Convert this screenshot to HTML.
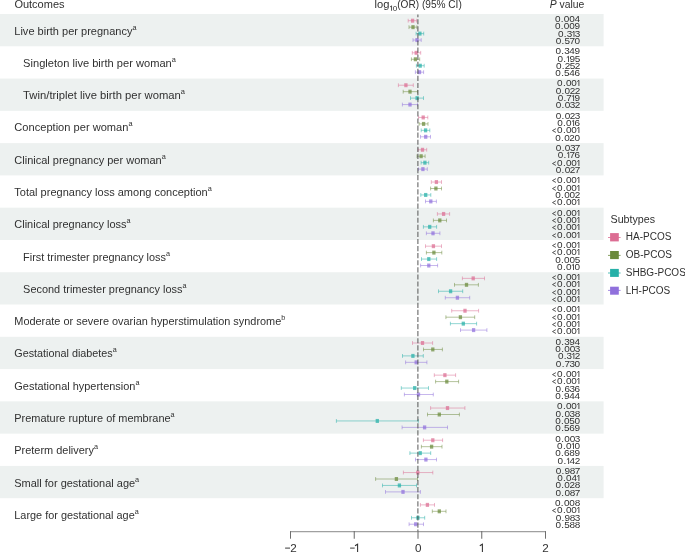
<!DOCTYPE html><html><head><meta charset="utf-8"><style>html,body{margin:0;padding:0;background:#fff;}body{width:685px;height:552px;overflow:hidden;}svg{display:block;will-change:transform;}text{font-family:"Liberation Sans",sans-serif;}</style></head><body>
<svg width="685" height="552" viewBox="0 0 685 552">
<rect x="0" y="14" width="603.6" height="32.28" fill="#edf1f0"/>
<rect x="0" y="78.56" width="603.6" height="32.28" fill="#edf1f0"/>
<rect x="0" y="143.12" width="603.6" height="32.28" fill="#edf1f0"/>
<rect x="0" y="207.68" width="603.6" height="32.28" fill="#edf1f0"/>
<rect x="0" y="272.24" width="603.6" height="32.28" fill="#edf1f0"/>
<rect x="0" y="336.8" width="603.6" height="32.28" fill="#edf1f0"/>
<rect x="0" y="401.36" width="603.6" height="32.28" fill="#edf1f0"/>
<rect x="0" y="465.92" width="603.6" height="32.28" fill="#edf1f0"/>
<text x="14.4" y="7.8" font-size="11.0" fill="#303030">Outcomes</text>
<text x="374.5" y="7.6" font-size="11" fill="#303030" textLength="14.9" lengthAdjust="spacingAndGlyphs">log</text>
<path d="M391.55 10.75V5.85L390.1 6.9" stroke="#303030" stroke-width="0.85" fill="none"/>
<text transform="translate(395.0,10.75) scale(1.08,1)" font-size="7.5" fill="#303030" text-anchor="middle">0</text>
<text x="397.2" y="7.6" font-size="11" fill="#303030" textLength="64.6" lengthAdjust="spacingAndGlyphs">(OR) (95% CI)</text>
<text transform="translate(584.4,7.7) scale(0.944,1)" font-size="11.0" fill="#303030" text-anchor="end"><tspan font-style="italic">P</tspan> value</text>
<text transform="translate(14.3,35) scale(1.0025,1)" font-size="11.0" fill="#303030">Live birth per pregnancy<tspan font-size="7.3" dy="-5.3">a</tspan></text>
<text transform="translate(580.0,21.90) scale(1.2,1)" x="-18.58 -14.88 -11.17 -6.67 -2.21" y="0" font-size="8.3" fill="#303030" text-anchor="middle">0.004</text>
<text transform="translate(580.0,29.23) scale(1.2,1)" x="-18.58 -14.88 -11.17 -6.67 -2.21" y="0" font-size="8.3" fill="#303030" text-anchor="middle">0.009</text>
<text transform="translate(580.0,36.56) scale(1.2,1)" x="-16.00 -12.29 -8.79 -2.04" y="0" font-size="8.3" fill="#303030" text-anchor="middle">0.33</text><path d="M574.00 37V31.20L572.30 32.60" stroke="#303030" stroke-width="0.85" fill="none"/>
<text transform="translate(580.0,43.89) scale(1.2,1)" x="-18.00 -14.29 -10.71 -6.54 -2.25" y="0" font-size="8.3" fill="#303030" text-anchor="middle">0.570</text>
<text transform="translate(23.1,67) scale(1.0093,1)" font-size="11.0" fill="#303030">Singleton live birth per woman<tspan font-size="7.3" dy="-5.3">a</tspan></text>
<text transform="translate(580.0,54.18) scale(1.2,1)" x="-18.08 -14.38 -10.87 -6.63 -2.21" y="0" font-size="8.3" fill="#303030" text-anchor="middle">0.349</text>
<text transform="translate(580.0,61.51) scale(1.2,1)" x="-16.50 -12.79 -6.46 -2.13" y="0" font-size="8.3" fill="#303030" text-anchor="middle">0.95</text><path d="M568.50 62V56.20L566.80 57.60" stroke="#303030" stroke-width="0.85" fill="none"/>
<text transform="translate(580.0,68.84) scale(1.2,1)" x="-17.75 -14.04 -10.50 -6.29 -2.08" y="0" font-size="8.3" fill="#303030" text-anchor="middle">0.252</text>
<text transform="translate(580.0,76.17) scale(1.2,1)" x="-18.25 -14.54 -10.96 -6.63 -2.21" y="0" font-size="8.3" fill="#303030" text-anchor="middle">0.546</text>
<text transform="translate(23.1,99) scale(1.0248,1)" font-size="11.0" fill="#303030">Twin/triplet live birth per woman<tspan font-size="7.3" dy="-5.3">a</tspan></text>
<text transform="translate(580.0,86.46) scale(1.2,1)" x="-16.83 -13.12 -9.42 -4.92" y="0" font-size="8.3" fill="#303030" text-anchor="middle">0.00</text><path d="M578.90 86V80.20L577.20 81.60" stroke="#303030" stroke-width="0.85" fill="none"/>
<text transform="translate(580.0,93.79) scale(1.2,1)" x="-18.00 -14.29 -10.58 -6.25 -2.08" y="0" font-size="8.3" fill="#303030" text-anchor="middle">0.022</text>
<text transform="translate(580.0,101.12) scale(1.2,1)" x="-16.33 -12.62 -9.12 -2.21" y="0" font-size="8.3" fill="#303030" text-anchor="middle">0.79</text><path d="M573.60 101V95.20L571.90 96.60" stroke="#303030" stroke-width="0.85" fill="none"/>
<text transform="translate(580.0,108.45) scale(1.2,1)" x="-17.92 -14.21 -10.50 -6.21 -2.08" y="0" font-size="8.3" fill="#303030" text-anchor="middle">0.032</text>
<text transform="translate(14.3,131) scale(1.0095,1)" font-size="11.0" fill="#303030">Conception per woman<tspan font-size="7.3" dy="-5.3">a</tspan></text>
<text transform="translate(580.0,118.74) scale(1.2,1)" x="-17.92 -14.21 -10.50 -6.17 -2.04" y="0" font-size="8.3" fill="#303030" text-anchor="middle">0.023</text>
<text transform="translate(580.0,126.07) scale(1.2,1)" x="-16.75 -13.04 -9.33 -2.21" y="0" font-size="8.3" fill="#303030" text-anchor="middle">0.06</text><path d="M573.60 126V120.20L571.90 121.60" stroke="#303030" stroke-width="0.85" fill="none"/>
<text transform="translate(580.0,133.40) scale(1.2,1)" x="-16.83 -13.12 -9.42 -4.92" y="0" font-size="8.3" fill="#303030" text-anchor="middle">0.00</text><path d="M555.90 128.65L552.50 130.55L555.90 132.45" stroke="#303030" stroke-width="0.8" fill="none"/><path d="M578.90 133V127.20L577.20 128.60" stroke="#303030" stroke-width="0.85" fill="none"/>
<text transform="translate(580.0,140.73) scale(1.2,1)" x="-18.33 -14.63 -10.92 -6.58 -2.25" y="0" font-size="8.3" fill="#303030" text-anchor="middle">0.020</text>
<text transform="translate(14.3,164) scale(1.0000,1)" font-size="11.0" fill="#303030">Clinical pregnancy per woman<tspan font-size="7.3" dy="-5.3">a</tspan></text>
<text transform="translate(580.0,151.02) scale(1.2,1)" x="-17.83 -14.13 -10.42 -6.13 -2.04" y="0" font-size="8.3" fill="#303030" text-anchor="middle">0.037</text>
<text transform="translate(580.0,158.35) scale(1.2,1)" x="-16.33 -12.62 -6.46 -2.21" y="0" font-size="8.3" fill="#303030" text-anchor="middle">0.76</text><path d="M568.70 158V152.20L567.00 153.60" stroke="#303030" stroke-width="0.85" fill="none"/>
<text transform="translate(580.0,165.68) scale(1.2,1)" x="-16.83 -13.12 -9.42 -4.92" y="0" font-size="8.3" fill="#303030" text-anchor="middle">0.00</text><path d="M555.90 161.65L552.50 163.55L555.90 165.45" stroke="#303030" stroke-width="0.8" fill="none"/><path d="M578.90 166V160.20L577.20 161.60" stroke="#303030" stroke-width="0.85" fill="none"/>
<text transform="translate(580.0,173.01) scale(1.2,1)" x="-17.92 -14.21 -10.50 -6.17 -2.04" y="0" font-size="8.3" fill="#303030" text-anchor="middle">0.027</text>
<text transform="translate(14.3,196) scale(1.0020,1)" font-size="11.0" fill="#303030">Total pregnancy loss among conception<tspan font-size="7.3" dy="-5.3">a</tspan></text>
<text transform="translate(580.0,183.30) scale(1.2,1)" x="-16.83 -13.12 -9.42 -4.92" y="0" font-size="8.3" fill="#303030" text-anchor="middle">0.00</text><path d="M555.90 178.65L552.50 180.55L555.90 182.45" stroke="#303030" stroke-width="0.8" fill="none"/><path d="M578.90 183V177.20L577.20 178.60" stroke="#303030" stroke-width="0.85" fill="none"/>
<text transform="translate(580.0,190.63) scale(1.2,1)" x="-16.83 -13.12 -9.42 -4.92" y="0" font-size="8.3" fill="#303030" text-anchor="middle">0.00</text><path d="M555.90 186.65L552.50 188.55L555.90 190.45" stroke="#303030" stroke-width="0.8" fill="none"/><path d="M578.90 191V185.20L577.20 186.60" stroke="#303030" stroke-width="0.85" fill="none"/>
<text transform="translate(580.0,197.96) scale(1.2,1)" x="-18.33 -14.63 -10.92 -6.42 -2.08" y="0" font-size="8.3" fill="#303030" text-anchor="middle">0.002</text>
<text transform="translate(580.0,205.29) scale(1.2,1)" x="-16.83 -13.12 -9.42 -4.92" y="0" font-size="8.3" fill="#303030" text-anchor="middle">0.00</text><path d="M555.90 200.65L552.50 202.55L555.90 204.45" stroke="#303030" stroke-width="0.8" fill="none"/><path d="M578.90 205V199.20L577.20 200.60" stroke="#303030" stroke-width="0.85" fill="none"/>
<text transform="translate(14.3,228) scale(0.9983,1)" font-size="11.0" fill="#303030">Clinical pregnancy loss<tspan font-size="7.3" dy="-5.3">a</tspan></text>
<text transform="translate(580.0,215.58) scale(1.2,1)" x="-16.83 -13.12 -9.42 -4.92" y="0" font-size="8.3" fill="#303030" text-anchor="middle">0.00</text><path d="M555.90 211.65L552.50 213.55L555.90 215.45" stroke="#303030" stroke-width="0.8" fill="none"/><path d="M578.90 216V210.20L577.20 211.60" stroke="#303030" stroke-width="0.85" fill="none"/>
<text transform="translate(580.0,222.91) scale(1.2,1)" x="-16.83 -13.12 -9.42 -4.92" y="0" font-size="8.3" fill="#303030" text-anchor="middle">0.00</text><path d="M555.90 218.65L552.50 220.55L555.90 222.45" stroke="#303030" stroke-width="0.8" fill="none"/><path d="M578.90 223V217.20L577.20 218.60" stroke="#303030" stroke-width="0.85" fill="none"/>
<text transform="translate(580.0,230.24) scale(1.2,1)" x="-16.83 -13.12 -9.42 -4.92" y="0" font-size="8.3" fill="#303030" text-anchor="middle">0.00</text><path d="M555.90 225.65L552.50 227.55L555.90 229.45" stroke="#303030" stroke-width="0.8" fill="none"/><path d="M578.90 230V224.20L577.20 225.60" stroke="#303030" stroke-width="0.85" fill="none"/>
<text transform="translate(580.0,237.57) scale(1.2,1)" x="-16.83 -13.12 -9.42 -4.92" y="0" font-size="8.3" fill="#303030" text-anchor="middle">0.00</text><path d="M555.90 233.65L552.50 235.55L555.90 237.45" stroke="#303030" stroke-width="0.8" fill="none"/><path d="M578.90 238V232.20L577.20 233.60" stroke="#303030" stroke-width="0.85" fill="none"/>
<text transform="translate(23.1,261) scale(0.9925,1)" font-size="11.0" fill="#303030">First trimester pregnancy loss<tspan font-size="7.3" dy="-5.3">a</tspan></text>
<text transform="translate(580.0,247.86) scale(1.2,1)" x="-16.83 -13.12 -9.42 -4.92" y="0" font-size="8.3" fill="#303030" text-anchor="middle">0.00</text><path d="M555.90 243.65L552.50 245.55L555.90 247.45" stroke="#303030" stroke-width="0.8" fill="none"/><path d="M578.90 248V242.20L577.20 243.60" stroke="#303030" stroke-width="0.85" fill="none"/>
<text transform="translate(580.0,255.19) scale(1.2,1)" x="-16.83 -13.12 -9.42 -4.92" y="0" font-size="8.3" fill="#303030" text-anchor="middle">0.00</text><path d="M555.90 250.65L552.50 252.55L555.90 254.45" stroke="#303030" stroke-width="0.8" fill="none"/><path d="M578.90 255V249.20L577.20 250.60" stroke="#303030" stroke-width="0.85" fill="none"/>
<text transform="translate(580.0,262.52) scale(1.2,1)" x="-18.42 -14.71 -11.00 -6.50 -2.13" y="0" font-size="8.3" fill="#303030" text-anchor="middle">0.005</text>
<text transform="translate(580.0,269.85) scale(1.2,1)" x="-16.83 -13.12 -9.42 -2.25" y="0" font-size="8.3" fill="#303030" text-anchor="middle">0.00</text><path d="M573.50 270V264.20L571.80 265.60" stroke="#303030" stroke-width="0.85" fill="none"/>
<text transform="translate(23.1,293) scale(0.9951,1)" font-size="11.0" fill="#303030">Second trimester pregnancy loss<tspan font-size="7.3" dy="-5.3">a</tspan></text>
<text transform="translate(580.0,280.14) scale(1.2,1)" x="-16.83 -13.12 -9.42 -4.92" y="0" font-size="8.3" fill="#303030" text-anchor="middle">0.00</text><path d="M555.90 275.65L552.50 277.55L555.90 279.45" stroke="#303030" stroke-width="0.8" fill="none"/><path d="M578.90 280V274.20L577.20 275.60" stroke="#303030" stroke-width="0.85" fill="none"/>
<text transform="translate(580.0,287.47) scale(1.2,1)" x="-16.83 -13.12 -9.42 -4.92" y="0" font-size="8.3" fill="#303030" text-anchor="middle">0.00</text><path d="M555.90 282.65L552.50 284.55L555.90 286.45" stroke="#303030" stroke-width="0.8" fill="none"/><path d="M578.90 287V281.20L577.20 282.60" stroke="#303030" stroke-width="0.85" fill="none"/>
<text transform="translate(580.0,294.80) scale(1.2,1)" x="-16.83 -13.12 -9.42 -4.92" y="0" font-size="8.3" fill="#303030" text-anchor="middle">0.00</text><path d="M555.90 290.65L552.50 292.55L555.90 294.45" stroke="#303030" stroke-width="0.8" fill="none"/><path d="M578.90 295V289.20L577.20 290.60" stroke="#303030" stroke-width="0.85" fill="none"/>
<text transform="translate(580.0,302.13) scale(1.2,1)" x="-16.83 -13.12 -9.42 -4.92" y="0" font-size="8.3" fill="#303030" text-anchor="middle">0.00</text><path d="M555.90 297.65L552.50 299.55L555.90 301.45" stroke="#303030" stroke-width="0.8" fill="none"/><path d="M578.90 302V296.20L577.20 297.60" stroke="#303030" stroke-width="0.85" fill="none"/>
<text transform="translate(14.3,325) scale(0.9934,1)" font-size="11.0" fill="#303030">Moderate or severe ovarian hyperstimulation syndrome<tspan font-size="7.3" dy="-5.3">b</tspan></text>
<text transform="translate(580.0,312.42) scale(1.2,1)" x="-16.83 -13.12 -9.42 -4.92" y="0" font-size="8.3" fill="#303030" text-anchor="middle">0.00</text><path d="M555.90 307.65L552.50 309.55L555.90 311.45" stroke="#303030" stroke-width="0.8" fill="none"/><path d="M578.90 312V306.20L577.20 307.60" stroke="#303030" stroke-width="0.85" fill="none"/>
<text transform="translate(580.0,319.75) scale(1.2,1)" x="-16.83 -13.12 -9.42 -4.92" y="0" font-size="8.3" fill="#303030" text-anchor="middle">0.00</text><path d="M555.90 315.65L552.50 317.55L555.90 319.45" stroke="#303030" stroke-width="0.8" fill="none"/><path d="M578.90 320V314.20L577.20 315.60" stroke="#303030" stroke-width="0.85" fill="none"/>
<text transform="translate(580.0,327.08) scale(1.2,1)" x="-16.83 -13.12 -9.42 -4.92" y="0" font-size="8.3" fill="#303030" text-anchor="middle">0.00</text><path d="M555.90 322.65L552.50 324.55L555.90 326.45" stroke="#303030" stroke-width="0.8" fill="none"/><path d="M578.90 327V321.20L577.20 322.60" stroke="#303030" stroke-width="0.85" fill="none"/>
<text transform="translate(580.0,334.41) scale(1.2,1)" x="-16.83 -13.12 -9.42 -4.92" y="0" font-size="8.3" fill="#303030" text-anchor="middle">0.00</text><path d="M555.90 329.65L552.50 331.55L555.90 333.45" stroke="#303030" stroke-width="0.8" fill="none"/><path d="M578.90 334V328.20L577.20 329.60" stroke="#303030" stroke-width="0.85" fill="none"/>
<text transform="translate(14.3,357) scale(0.9827,1)" font-size="11.0" fill="#303030">Gestational diabetes<tspan font-size="7.3" dy="-5.3">a</tspan></text>
<text transform="translate(580.0,344.70) scale(1.2,1)" x="-18.08 -14.38 -10.87 -6.63 -2.21" y="0" font-size="8.3" fill="#303030" text-anchor="middle">0.394</text>
<text transform="translate(580.0,352.03) scale(1.2,1)" x="-18.25 -14.54 -10.83 -6.33 -2.04" y="0" font-size="8.3" fill="#303030" text-anchor="middle">0.003</text>
<text transform="translate(580.0,359.36) scale(1.2,1)" x="-16.08 -12.38 -8.87 -2.08" y="0" font-size="8.3" fill="#303030" text-anchor="middle">0.32</text><path d="M573.90 359V353.20L572.20 354.60" stroke="#303030" stroke-width="0.85" fill="none"/>
<text transform="translate(580.0,366.69) scale(1.2,1)" x="-17.83 -14.13 -10.62 -6.54 -2.25" y="0" font-size="8.3" fill="#303030" text-anchor="middle">0.730</text>
<text transform="translate(14.3,390) scale(0.9960,1)" font-size="11.0" fill="#303030">Gestational hypertension<tspan font-size="7.3" dy="-5.3">a</tspan></text>
<text transform="translate(580.0,376.98) scale(1.2,1)" x="-16.83 -13.12 -9.42 -4.92" y="0" font-size="8.3" fill="#303030" text-anchor="middle">0.00</text><path d="M555.90 372.65L552.50 374.55L555.90 376.45" stroke="#303030" stroke-width="0.8" fill="none"/><path d="M578.90 377V371.20L577.20 372.60" stroke="#303030" stroke-width="0.85" fill="none"/>
<text transform="translate(580.0,384.31) scale(1.2,1)" x="-16.83 -13.12 -9.42 -4.92" y="0" font-size="8.3" fill="#303030" text-anchor="middle">0.00</text><path d="M555.90 379.65L552.50 381.55L555.90 383.45" stroke="#303030" stroke-width="0.8" fill="none"/><path d="M578.90 384V378.20L577.20 379.60" stroke="#303030" stroke-width="0.85" fill="none"/>
<text transform="translate(580.0,391.64) scale(1.2,1)" x="-18.08 -14.38 -10.71 -6.46 -2.21" y="0" font-size="8.3" fill="#303030" text-anchor="middle">0.636</text>
<text transform="translate(580.0,398.97) scale(1.2,1)" x="-18.42 -14.71 -11.04 -6.63 -2.21" y="0" font-size="8.3" fill="#303030" text-anchor="middle">0.944</text>
<text transform="translate(14.3,422) scale(0.9950,1)" font-size="11.0" fill="#303030">Premature rupture of membrane<tspan font-size="7.3" dy="-5.3">a</tspan></text>
<text transform="translate(580.0,409.26) scale(1.2,1)" x="-16.83 -13.12 -9.42 -4.92" y="0" font-size="8.3" fill="#303030" text-anchor="middle">0.00</text><path d="M578.90 409V403.20L577.20 404.60" stroke="#303030" stroke-width="0.85" fill="none"/>
<text transform="translate(580.0,416.59) scale(1.2,1)" x="-18.08 -14.38 -10.67 -6.37 -2.17" y="0" font-size="8.3" fill="#303030" text-anchor="middle">0.038</text>
<text transform="translate(580.0,423.92) scale(1.2,1)" x="-18.42 -14.71 -11.00 -6.63 -2.25" y="0" font-size="8.3" fill="#303030" text-anchor="middle">0.050</text>
<text transform="translate(580.0,431.25) scale(1.2,1)" x="-18.25 -14.54 -10.96 -6.63 -2.21" y="0" font-size="8.3" fill="#303030" text-anchor="middle">0.569</text>
<text transform="translate(14.3,454) scale(0.9951,1)" font-size="11.0" fill="#303030">Preterm delivery<tspan font-size="7.3" dy="-5.3">a</tspan></text>
<text transform="translate(580.0,441.54) scale(1.2,1)" x="-18.25 -14.54 -10.83 -6.33 -2.04" y="0" font-size="8.3" fill="#303030" text-anchor="middle">0.003</text>
<text transform="translate(580.0,448.87) scale(1.2,1)" x="-16.83 -13.12 -9.42 -2.25" y="0" font-size="8.3" fill="#303030" text-anchor="middle">0.00</text><path d="M573.50 449V443.20L571.80 444.60" stroke="#303030" stroke-width="0.85" fill="none"/>
<text transform="translate(580.0,456.20) scale(1.2,1)" x="-18.33 -14.63 -10.96 -6.58 -2.21" y="0" font-size="8.3" fill="#303030" text-anchor="middle">0.689</text>
<text transform="translate(580.0,463.53) scale(1.2,1)" x="-16.42 -12.71 -6.37 -2.08" y="0" font-size="8.3" fill="#303030" text-anchor="middle">0.42</text><path d="M568.60 464V458.20L566.90 459.60" stroke="#303030" stroke-width="0.85" fill="none"/>
<text transform="translate(14.3,487) scale(0.9984,1)" font-size="11.0" fill="#303030">Small for gestational age<tspan font-size="7.3" dy="-5.3">a</tspan></text>
<text transform="translate(580.0,473.82) scale(1.2,1)" x="-18.00 -14.29 -10.62 -6.25 -2.04" y="0" font-size="8.3" fill="#303030" text-anchor="middle">0.987</text>
<text transform="translate(580.0,481.15) scale(1.2,1)" x="-16.75 -13.04 -9.33 -4.88" y="0" font-size="8.3" fill="#303030" text-anchor="middle">0.04</text><path d="M578.90 481V475.20L577.20 476.60" stroke="#303030" stroke-width="0.85" fill="none"/>
<text transform="translate(580.0,488.48) scale(1.2,1)" x="-18.17 -14.46 -10.75 -6.42 -2.17" y="0" font-size="8.3" fill="#303030" text-anchor="middle">0.028</text>
<text transform="translate(580.0,495.81) scale(1.2,1)" x="-18.08 -14.38 -10.67 -6.25 -2.04" y="0" font-size="8.3" fill="#303030" text-anchor="middle">0.087</text>
<text transform="translate(14.3,519) scale(0.9903,1)" font-size="11.0" fill="#303030">Large for gestational age<tspan font-size="7.3" dy="-5.3">a</tspan></text>
<text transform="translate(580.0,506.10) scale(1.2,1)" x="-18.50 -14.79 -11.08 -6.58 -2.17" y="0" font-size="8.3" fill="#303030" text-anchor="middle">0.008</text>
<text transform="translate(580.0,513.43) scale(1.2,1)" x="-16.83 -13.12 -9.42 -4.92" y="0" font-size="8.3" fill="#303030" text-anchor="middle">0.00</text><path d="M555.90 508.65L552.50 510.55L555.90 512.45" stroke="#303030" stroke-width="0.8" fill="none"/><path d="M578.90 513V507.20L577.20 508.60" stroke="#303030" stroke-width="0.85" fill="none"/>
<text transform="translate(580.0,520.76) scale(1.2,1)" x="-18.00 -14.29 -10.62 -6.25 -2.04" y="0" font-size="8.3" fill="#303030" text-anchor="middle">0.983</text>
<text transform="translate(580.0,528.09) scale(1.2,1)" x="-18.08 -14.38 -10.79 -6.50 -2.17" y="0" font-size="8.3" fill="#303030" text-anchor="middle">0.588</text>
<g stroke="#dc6d93" stroke-opacity="0.5" stroke-width="1.0" fill="none"><line x1="408.2" y1="20.7" x2="416.6" y2="20.7"/><line x1="408.2" y1="18.8" x2="408.2" y2="22.6"/><line x1="416.6" y1="18.8" x2="416.6" y2="22.6"/></g>
<rect x="410.95" y="18.7" width="3.3" height="4.0" fill="#dc6d93" fill-opacity="0.72"/>
<g stroke="#6b8a3c" stroke-opacity="0.5" stroke-width="1.0" fill="none"><line x1="409" y1="27.15" x2="416.9" y2="27.15"/><line x1="409" y1="25.25" x2="409" y2="29.05"/><line x1="416.9" y1="25.25" x2="416.9" y2="29.05"/></g>
<rect x="411.35" y="25.15" width="3.3" height="4.0" fill="#6b8a3c" fill-opacity="0.72"/>
<g stroke="#26b0a8" stroke-opacity="0.5" stroke-width="1.0" fill="none"><line x1="416.1" y1="33.6" x2="423.7" y2="33.6"/><line x1="416.1" y1="31.7" x2="416.1" y2="35.5"/><line x1="423.7" y1="31.7" x2="423.7" y2="35.5"/></g>
<rect x="418.25" y="31.6" width="3.3" height="4.0" fill="#26b0a8" fill-opacity="0.72"/>
<g stroke="#9070dc" stroke-opacity="0.5" stroke-width="1.0" fill="none"><line x1="413" y1="40.05" x2="421.2" y2="40.05"/><line x1="413" y1="38.15" x2="413" y2="41.95"/><line x1="421.2" y1="38.15" x2="421.2" y2="41.95"/></g>
<rect x="415.35" y="38.05" width="3.3" height="4.0" fill="#9070dc" fill-opacity="0.72"/>
<g stroke="#dc6d93" stroke-opacity="0.5" stroke-width="1.0" fill="none"><line x1="412.3" y1="52.82" x2="420.7" y2="52.82"/><line x1="412.3" y1="50.92" x2="412.3" y2="54.72"/><line x1="420.7" y1="50.92" x2="420.7" y2="54.72"/></g>
<rect x="414.55" y="50.82" width="3.3" height="4.0" fill="#dc6d93" fill-opacity="0.72"/>
<g stroke="#6b8a3c" stroke-opacity="0.5" stroke-width="1.0" fill="none"><line x1="411.4" y1="59.27" x2="419.7" y2="59.27"/><line x1="411.4" y1="57.38" x2="411.4" y2="61.17"/><line x1="419.7" y1="57.38" x2="419.7" y2="61.17"/></g>
<rect x="413.75" y="57.27" width="3.3" height="4.0" fill="#6b8a3c" fill-opacity="0.72"/>
<g stroke="#26b0a8" stroke-opacity="0.5" stroke-width="1.0" fill="none"><line x1="416.4" y1="65.72" x2="424.2" y2="65.72"/><line x1="416.4" y1="63.82" x2="416.4" y2="67.62"/><line x1="424.2" y1="63.82" x2="424.2" y2="67.62"/></g>
<rect x="418.55" y="63.72" width="3.3" height="4.0" fill="#26b0a8" fill-opacity="0.72"/>
<g stroke="#9070dc" stroke-opacity="0.5" stroke-width="1.0" fill="none"><line x1="415.4" y1="72.17" x2="423.6" y2="72.17"/><line x1="415.4" y1="70.27" x2="415.4" y2="74.08"/><line x1="423.6" y1="70.27" x2="423.6" y2="74.08"/></g>
<rect x="417.85" y="70.17" width="3.3" height="4.0" fill="#9070dc" fill-opacity="0.72"/>
<g stroke="#dc6d93" stroke-opacity="0.5" stroke-width="1.0" fill="none"><line x1="398.4" y1="85.22" x2="413.3" y2="85.22"/><line x1="398.4" y1="83.32" x2="398.4" y2="87.12"/><line x1="413.3" y1="83.32" x2="413.3" y2="87.12"/></g>
<rect x="404.25" y="83.22" width="3.3" height="4.0" fill="#dc6d93" fill-opacity="0.72"/>
<g stroke="#6b8a3c" stroke-opacity="0.5" stroke-width="1.0" fill="none"><line x1="403.2" y1="91.67" x2="417.5" y2="91.67"/><line x1="403.2" y1="89.77" x2="403.2" y2="93.58"/><line x1="417.5" y1="89.77" x2="417.5" y2="93.58"/></g>
<rect x="408.35" y="89.67" width="3.3" height="4.0" fill="#6b8a3c" fill-opacity="0.72"/>
<g stroke="#26b0a8" stroke-opacity="0.5" stroke-width="1.0" fill="none"><line x1="410.5" y1="98.12" x2="423.5" y2="98.12"/><line x1="410.5" y1="96.22" x2="410.5" y2="100.03"/><line x1="423.5" y1="96.22" x2="423.5" y2="100.03"/></g>
<rect x="415.45" y="96.12" width="3.3" height="4.0" fill="#26b0a8" fill-opacity="0.72"/>
<g stroke="#9070dc" stroke-opacity="0.5" stroke-width="1.0" fill="none"><line x1="402.4" y1="104.57" x2="417.5" y2="104.57"/><line x1="402.4" y1="102.67" x2="402.4" y2="106.47"/><line x1="417.5" y1="102.67" x2="417.5" y2="106.47"/></g>
<rect x="408.35" y="102.57" width="3.3" height="4.0" fill="#9070dc" fill-opacity="0.72"/>
<g stroke="#dc6d93" stroke-opacity="0.5" stroke-width="1.0" fill="none"><line x1="418.6" y1="117.45" x2="427.8" y2="117.45"/><line x1="418.6" y1="115.55" x2="418.6" y2="119.35"/><line x1="427.8" y1="115.55" x2="427.8" y2="119.35"/></g>
<rect x="421.55" y="115.45" width="3.3" height="4.0" fill="#dc6d93" fill-opacity="0.72"/>
<g stroke="#6b8a3c" stroke-opacity="0.5" stroke-width="1.0" fill="none"><line x1="419.1" y1="123.9" x2="428" y2="123.9"/><line x1="419.1" y1="122" x2="419.1" y2="125.8"/><line x1="428" y1="122" x2="428" y2="125.8"/></g>
<rect x="421.95" y="121.9" width="3.3" height="4.0" fill="#6b8a3c" fill-opacity="0.72"/>
<g stroke="#26b0a8" stroke-opacity="0.5" stroke-width="1.0" fill="none"><line x1="421.2" y1="130.35" x2="429.8" y2="130.35"/><line x1="421.2" y1="128.45" x2="421.2" y2="132.25"/><line x1="429.8" y1="128.45" x2="429.8" y2="132.25"/></g>
<rect x="423.95" y="128.35" width="3.3" height="4.0" fill="#26b0a8" fill-opacity="0.72"/>
<g stroke="#9070dc" stroke-opacity="0.5" stroke-width="1.0" fill="none"><line x1="420.5" y1="136.8" x2="430.5" y2="136.8"/><line x1="420.5" y1="134.9" x2="420.5" y2="138.7"/><line x1="430.5" y1="134.9" x2="430.5" y2="138.7"/></g>
<rect x="424.05" y="134.8" width="3.3" height="4.0" fill="#9070dc" fill-opacity="0.72"/>
<g stroke="#dc6d93" stroke-opacity="0.5" stroke-width="1.0" fill="none"><line x1="418.1" y1="149.78" x2="426.7" y2="149.78"/><line x1="418.1" y1="147.88" x2="418.1" y2="151.68"/><line x1="426.7" y1="147.88" x2="426.7" y2="151.68"/></g>
<rect x="420.85" y="147.78" width="3.3" height="4.0" fill="#dc6d93" fill-opacity="0.72"/>
<g stroke="#6b8a3c" stroke-opacity="0.5" stroke-width="1.0" fill="none"><line x1="417" y1="156.22" x2="425.1" y2="156.22"/><line x1="417" y1="154.32" x2="417" y2="158.12"/><line x1="425.1" y1="154.32" x2="425.1" y2="158.12"/></g>
<rect x="419.45" y="154.22" width="3.3" height="4.0" fill="#6b8a3c" fill-opacity="0.72"/>
<g stroke="#26b0a8" stroke-opacity="0.5" stroke-width="1.0" fill="none"><line x1="421.1" y1="162.68" x2="428.7" y2="162.68"/><line x1="421.1" y1="160.78" x2="421.1" y2="164.58"/><line x1="428.7" y1="160.78" x2="428.7" y2="164.58"/></g>
<rect x="423.25" y="160.68" width="3.3" height="4.0" fill="#26b0a8" fill-opacity="0.72"/>
<g stroke="#9070dc" stroke-opacity="0.5" stroke-width="1.0" fill="none"><line x1="418.4" y1="169.12" x2="427.3" y2="169.12"/><line x1="418.4" y1="167.22" x2="418.4" y2="171.03"/><line x1="427.3" y1="167.22" x2="427.3" y2="171.03"/></g>
<rect x="421.25" y="167.12" width="3.3" height="4.0" fill="#9070dc" fill-opacity="0.72"/>
<g stroke="#dc6d93" stroke-opacity="0.5" stroke-width="1.0" fill="none"><line x1="431.3" y1="182.05" x2="441.5" y2="182.05"/><line x1="431.3" y1="180.15" x2="431.3" y2="183.95"/><line x1="441.5" y1="180.15" x2="441.5" y2="183.95"/></g>
<rect x="434.75" y="180.05" width="3.3" height="4.0" fill="#dc6d93" fill-opacity="0.72"/>
<g stroke="#6b8a3c" stroke-opacity="0.5" stroke-width="1.0" fill="none"><line x1="430.6" y1="188.5" x2="441.5" y2="188.5"/><line x1="430.6" y1="186.6" x2="430.6" y2="190.4"/><line x1="441.5" y1="186.6" x2="441.5" y2="190.4"/></g>
<rect x="434.25" y="186.5" width="3.3" height="4.0" fill="#6b8a3c" fill-opacity="0.72"/>
<g stroke="#26b0a8" stroke-opacity="0.5" stroke-width="1.0" fill="none"><line x1="420.8" y1="194.95" x2="430.8" y2="194.95"/><line x1="420.8" y1="193.05" x2="420.8" y2="196.85"/><line x1="430.8" y1="193.05" x2="430.8" y2="196.85"/></g>
<rect x="424.05" y="192.95" width="3.3" height="4.0" fill="#26b0a8" fill-opacity="0.72"/>
<g stroke="#9070dc" stroke-opacity="0.5" stroke-width="1.0" fill="none"><line x1="425.5" y1="201.4" x2="436.4" y2="201.4"/><line x1="425.5" y1="199.5" x2="425.5" y2="203.3"/><line x1="436.4" y1="199.5" x2="436.4" y2="203.3"/></g>
<rect x="429.15" y="199.4" width="3.3" height="4.0" fill="#9070dc" fill-opacity="0.72"/>
<g stroke="#dc6d93" stroke-opacity="0.5" stroke-width="1.0" fill="none"><line x1="437.4" y1="213.95" x2="449.6" y2="213.95"/><line x1="437.4" y1="212.05" x2="437.4" y2="215.85"/><line x1="449.6" y1="212.05" x2="449.6" y2="215.85"/></g>
<rect x="441.95" y="211.95" width="3.3" height="4.0" fill="#dc6d93" fill-opacity="0.72"/>
<g stroke="#6b8a3c" stroke-opacity="0.5" stroke-width="1.0" fill="none"><line x1="433.4" y1="220.4" x2="446.5" y2="220.4"/><line x1="433.4" y1="218.5" x2="433.4" y2="222.3"/><line x1="446.5" y1="218.5" x2="446.5" y2="222.3"/></g>
<rect x="438.15" y="218.4" width="3.3" height="4.0" fill="#6b8a3c" fill-opacity="0.72"/>
<g stroke="#26b0a8" stroke-opacity="0.5" stroke-width="1.0" fill="none"><line x1="423.4" y1="226.85" x2="436.6" y2="226.85"/><line x1="423.4" y1="224.95" x2="423.4" y2="228.75"/><line x1="436.6" y1="224.95" x2="436.6" y2="228.75"/></g>
<rect x="428.05" y="224.85" width="3.3" height="4.0" fill="#26b0a8" fill-opacity="0.72"/>
<g stroke="#9070dc" stroke-opacity="0.5" stroke-width="1.0" fill="none"><line x1="426.4" y1="233.3" x2="439.9" y2="233.3"/><line x1="426.4" y1="231.4" x2="426.4" y2="235.2"/><line x1="439.9" y1="231.4" x2="439.9" y2="235.2"/></g>
<rect x="431.35" y="231.3" width="3.3" height="4.0" fill="#9070dc" fill-opacity="0.72"/>
<g stroke="#dc6d93" stroke-opacity="0.5" stroke-width="1.0" fill="none"><line x1="425.5" y1="246.18" x2="441.5" y2="246.18"/><line x1="425.5" y1="244.28" x2="425.5" y2="248.08"/><line x1="441.5" y1="244.28" x2="441.5" y2="248.08"/></g>
<rect x="431.75" y="244.18" width="3.3" height="4.0" fill="#dc6d93" fill-opacity="0.72"/>
<g stroke="#6b8a3c" stroke-opacity="0.5" stroke-width="1.0" fill="none"><line x1="426.4" y1="252.62" x2="441.8" y2="252.62"/><line x1="426.4" y1="250.72" x2="426.4" y2="254.53"/><line x1="441.8" y1="250.72" x2="441.8" y2="254.53"/></g>
<rect x="432.25" y="250.62" width="3.3" height="4.0" fill="#6b8a3c" fill-opacity="0.72"/>
<g stroke="#26b0a8" stroke-opacity="0.5" stroke-width="1.0" fill="none"><line x1="421.5" y1="259.07" x2="436.6" y2="259.07"/><line x1="421.5" y1="257.18" x2="421.5" y2="260.97"/><line x1="436.6" y1="257.18" x2="436.6" y2="260.97"/></g>
<rect x="427.15" y="257.07" width="3.3" height="4.0" fill="#26b0a8" fill-opacity="0.72"/>
<g stroke="#9070dc" stroke-opacity="0.5" stroke-width="1.0" fill="none"><line x1="420.6" y1="265.53" x2="437.6" y2="265.53"/><line x1="420.6" y1="263.63" x2="420.6" y2="267.43"/><line x1="437.6" y1="263.63" x2="437.6" y2="267.43"/></g>
<rect x="427.15" y="263.53" width="3.3" height="4.0" fill="#9070dc" fill-opacity="0.72"/>
<g stroke="#dc6d93" stroke-opacity="0.5" stroke-width="1.0" fill="none"><line x1="462.4" y1="278.38" x2="484.5" y2="278.38"/><line x1="462.4" y1="276.48" x2="462.4" y2="280.27"/><line x1="484.5" y1="276.48" x2="484.5" y2="280.27"/></g>
<rect x="471.55" y="276.38" width="3.3" height="4.0" fill="#dc6d93" fill-opacity="0.72"/>
<g stroke="#6b8a3c" stroke-opacity="0.5" stroke-width="1.0" fill="none"><line x1="454.5" y1="284.82" x2="478.4" y2="284.82"/><line x1="454.5" y1="282.93" x2="454.5" y2="286.72"/><line x1="478.4" y1="282.93" x2="478.4" y2="286.72"/></g>
<rect x="464.85" y="282.82" width="3.3" height="4.0" fill="#6b8a3c" fill-opacity="0.72"/>
<g stroke="#26b0a8" stroke-opacity="0.5" stroke-width="1.0" fill="none"><line x1="438.5" y1="291.27" x2="462.7" y2="291.27"/><line x1="438.5" y1="289.38" x2="438.5" y2="293.17"/><line x1="462.7" y1="289.38" x2="462.7" y2="293.17"/></g>
<rect x="448.95" y="289.27" width="3.3" height="4.0" fill="#26b0a8" fill-opacity="0.72"/>
<g stroke="#9070dc" stroke-opacity="0.5" stroke-width="1.0" fill="none"><line x1="445.3" y1="297.73" x2="469.7" y2="297.73"/><line x1="445.3" y1="295.83" x2="445.3" y2="299.62"/><line x1="469.7" y1="295.83" x2="469.7" y2="299.62"/></g>
<rect x="455.75" y="295.73" width="3.3" height="4.0" fill="#9070dc" fill-opacity="0.72"/>
<g stroke="#dc6d93" stroke-opacity="0.5" stroke-width="1.0" fill="none"><line x1="451.7" y1="310.75" x2="478.6" y2="310.75"/><line x1="451.7" y1="308.85" x2="451.7" y2="312.65"/><line x1="478.6" y1="308.85" x2="478.6" y2="312.65"/></g>
<rect x="463.35" y="308.75" width="3.3" height="4.0" fill="#dc6d93" fill-opacity="0.72"/>
<g stroke="#6b8a3c" stroke-opacity="0.5" stroke-width="1.0" fill="none"><line x1="445.9" y1="317.2" x2="474.7" y2="317.2"/><line x1="445.9" y1="315.3" x2="445.9" y2="319.1"/><line x1="474.7" y1="315.3" x2="474.7" y2="319.1"/></g>
<rect x="458.75" y="315.2" width="3.3" height="4.0" fill="#6b8a3c" fill-opacity="0.72"/>
<g stroke="#26b0a8" stroke-opacity="0.5" stroke-width="1.0" fill="none"><line x1="450.4" y1="323.65" x2="476.6" y2="323.65"/><line x1="450.4" y1="321.75" x2="450.4" y2="325.55"/><line x1="476.6" y1="321.75" x2="476.6" y2="325.55"/></g>
<rect x="461.65" y="321.65" width="3.3" height="4.0" fill="#26b0a8" fill-opacity="0.72"/>
<g stroke="#9070dc" stroke-opacity="0.5" stroke-width="1.0" fill="none"><line x1="460.5" y1="330.1" x2="486.9" y2="330.1"/><line x1="460.5" y1="328.2" x2="460.5" y2="332"/><line x1="486.9" y1="328.2" x2="486.9" y2="332"/></g>
<rect x="471.95" y="328.1" width="3.3" height="4.0" fill="#9070dc" fill-opacity="0.72"/>
<g stroke="#dc6d93" stroke-opacity="0.5" stroke-width="1.0" fill="none"><line x1="412.5" y1="343" x2="432.6" y2="343"/><line x1="412.5" y1="341.1" x2="412.5" y2="344.9"/><line x1="432.6" y1="341.1" x2="432.6" y2="344.9"/></g>
<rect x="420.85" y="341" width="3.3" height="4.0" fill="#dc6d93" fill-opacity="0.72"/>
<g stroke="#6b8a3c" stroke-opacity="0.5" stroke-width="1.0" fill="none"><line x1="423.5" y1="349.45" x2="442.4" y2="349.45"/><line x1="423.5" y1="347.55" x2="423.5" y2="351.35"/><line x1="442.4" y1="347.55" x2="442.4" y2="351.35"/></g>
<rect x="431.15" y="347.45" width="3.3" height="4.0" fill="#6b8a3c" fill-opacity="0.72"/>
<g stroke="#26b0a8" stroke-opacity="0.5" stroke-width="1.0" fill="none"><line x1="402.5" y1="355.9" x2="423.3" y2="355.9"/><line x1="402.5" y1="354" x2="402.5" y2="357.8"/><line x1="423.3" y1="354" x2="423.3" y2="357.8"/></g>
<rect x="411.25" y="353.9" width="3.3" height="4.0" fill="#26b0a8" fill-opacity="0.72"/>
<g stroke="#9070dc" stroke-opacity="0.5" stroke-width="1.0" fill="none"><line x1="405.6" y1="362.35" x2="426.9" y2="362.35"/><line x1="405.6" y1="360.45" x2="405.6" y2="364.25"/><line x1="426.9" y1="360.45" x2="426.9" y2="364.25"/></g>
<rect x="414.55" y="360.35" width="3.3" height="4.0" fill="#9070dc" fill-opacity="0.72"/>
<g stroke="#dc6d93" stroke-opacity="0.5" stroke-width="1.0" fill="none"><line x1="434.3" y1="375.15" x2="455.6" y2="375.15"/><line x1="434.3" y1="373.25" x2="434.3" y2="377.05"/><line x1="455.6" y1="373.25" x2="455.6" y2="377.05"/></g>
<rect x="443.25" y="373.15" width="3.3" height="4.0" fill="#dc6d93" fill-opacity="0.72"/>
<g stroke="#6b8a3c" stroke-opacity="0.5" stroke-width="1.0" fill="none"><line x1="435.6" y1="381.6" x2="458.6" y2="381.6"/><line x1="435.6" y1="379.7" x2="435.6" y2="383.5"/><line x1="458.6" y1="379.7" x2="458.6" y2="383.5"/></g>
<rect x="445.15" y="379.6" width="3.3" height="4.0" fill="#6b8a3c" fill-opacity="0.72"/>
<g stroke="#26b0a8" stroke-opacity="0.5" stroke-width="1.0" fill="none"><line x1="401.3" y1="388.05" x2="428.5" y2="388.05"/><line x1="401.3" y1="386.15" x2="401.3" y2="389.95"/><line x1="428.5" y1="386.15" x2="428.5" y2="389.95"/></g>
<rect x="413.05" y="386.05" width="3.3" height="4.0" fill="#26b0a8" fill-opacity="0.72"/>
<g stroke="#9070dc" stroke-opacity="0.5" stroke-width="1.0" fill="none"><line x1="404.4" y1="394.5" x2="433.3" y2="394.5"/><line x1="404.4" y1="392.6" x2="404.4" y2="396.4"/><line x1="433.3" y1="392.6" x2="433.3" y2="396.4"/></g>
<rect x="416.85" y="392.5" width="3.3" height="4.0" fill="#9070dc" fill-opacity="0.72"/>
<g stroke="#dc6d93" stroke-opacity="0.5" stroke-width="1.0" fill="none"><line x1="430.6" y1="408.05" x2="464.9" y2="408.05"/><line x1="430.6" y1="406.15" x2="430.6" y2="409.95"/><line x1="464.9" y1="406.15" x2="464.9" y2="409.95"/></g>
<rect x="445.85" y="406.05" width="3.3" height="4.0" fill="#dc6d93" fill-opacity="0.72"/>
<g stroke="#6b8a3c" stroke-opacity="0.5" stroke-width="1.0" fill="none"><line x1="427.5" y1="414.5" x2="459.4" y2="414.5"/><line x1="427.5" y1="412.6" x2="427.5" y2="416.4"/><line x1="459.4" y1="412.6" x2="459.4" y2="416.4"/></g>
<rect x="437.65" y="412.5" width="3.3" height="4.0" fill="#6b8a3c" fill-opacity="0.72"/>
<g stroke="#26b0a8" stroke-opacity="0.5" stroke-width="1.0" fill="none"><line x1="336.4" y1="420.95" x2="418.3" y2="420.95"/><line x1="336.4" y1="419.05" x2="336.4" y2="422.85"/><line x1="418.3" y1="419.05" x2="418.3" y2="422.85"/></g>
<rect x="375.65" y="418.95" width="3.3" height="4.0" fill="#26b0a8" fill-opacity="0.72"/>
<g stroke="#9070dc" stroke-opacity="0.5" stroke-width="1.0" fill="none"><line x1="402.1" y1="427.4" x2="447.5" y2="427.4"/><line x1="402.1" y1="425.5" x2="402.1" y2="429.3"/><line x1="447.5" y1="425.5" x2="447.5" y2="429.3"/></g>
<rect x="422.95" y="425.4" width="3.3" height="4.0" fill="#9070dc" fill-opacity="0.72"/>
<g stroke="#dc6d93" stroke-opacity="0.5" stroke-width="1.0" fill="none"><line x1="423.4" y1="440.23" x2="442.6" y2="440.23"/><line x1="423.4" y1="438.33" x2="423.4" y2="442.12"/><line x1="442.6" y1="438.33" x2="442.6" y2="442.12"/></g>
<rect x="431.15" y="438.23" width="3.3" height="4.0" fill="#dc6d93" fill-opacity="0.72"/>
<g stroke="#6b8a3c" stroke-opacity="0.5" stroke-width="1.0" fill="none"><line x1="421.4" y1="446.68" x2="442" y2="446.68"/><line x1="421.4" y1="444.78" x2="421.4" y2="448.57"/><line x1="442" y1="444.78" x2="442" y2="448.57"/></g>
<rect x="429.95" y="444.68" width="3.3" height="4.0" fill="#6b8a3c" fill-opacity="0.72"/>
<g stroke="#26b0a8" stroke-opacity="0.5" stroke-width="1.0" fill="none"><line x1="409.9" y1="453.12" x2="430.7" y2="453.12"/><line x1="409.9" y1="451.23" x2="409.9" y2="455.02"/><line x1="430.7" y1="451.23" x2="430.7" y2="455.02"/></g>
<rect x="418.55" y="451.12" width="3.3" height="4.0" fill="#26b0a8" fill-opacity="0.72"/>
<g stroke="#9070dc" stroke-opacity="0.5" stroke-width="1.0" fill="none"><line x1="415.5" y1="459.58" x2="436.5" y2="459.58"/><line x1="415.5" y1="457.68" x2="415.5" y2="461.48"/><line x1="436.5" y1="457.68" x2="436.5" y2="461.48"/></g>
<rect x="424.25" y="457.58" width="3.3" height="4.0" fill="#9070dc" fill-opacity="0.72"/>
<g stroke="#dc6d93" stroke-opacity="0.5" stroke-width="1.0" fill="none"><line x1="403.4" y1="472.55" x2="432.8" y2="472.55"/><line x1="403.4" y1="470.65" x2="403.4" y2="474.45"/><line x1="432.8" y1="470.65" x2="432.8" y2="474.45"/></g>
<rect x="416.15" y="470.55" width="3.3" height="4.0" fill="#dc6d93" fill-opacity="0.72"/>
<g stroke="#6b8a3c" stroke-opacity="0.5" stroke-width="1.0" fill="none"><line x1="375.6" y1="479" x2="417.5" y2="479"/><line x1="375.6" y1="477.1" x2="375.6" y2="480.9"/><line x1="417.5" y1="477.1" x2="417.5" y2="480.9"/></g>
<rect x="394.75" y="477" width="3.3" height="4.0" fill="#6b8a3c" fill-opacity="0.72"/>
<g stroke="#26b0a8" stroke-opacity="0.5" stroke-width="1.0" fill="none"><line x1="382.5" y1="485.45" x2="416.5" y2="485.45"/><line x1="382.5" y1="483.55" x2="382.5" y2="487.35"/><line x1="416.5" y1="483.55" x2="416.5" y2="487.35"/></g>
<rect x="397.75" y="483.45" width="3.3" height="4.0" fill="#26b0a8" fill-opacity="0.72"/>
<g stroke="#9070dc" stroke-opacity="0.5" stroke-width="1.0" fill="none"><line x1="385.5" y1="491.9" x2="420.4" y2="491.9"/><line x1="385.5" y1="490" x2="385.5" y2="493.8"/><line x1="420.4" y1="490" x2="420.4" y2="493.8"/></g>
<rect x="401.35" y="489.9" width="3.3" height="4.0" fill="#9070dc" fill-opacity="0.72"/>
<g stroke="#dc6d93" stroke-opacity="0.5" stroke-width="1.0" fill="none"><line x1="420.4" y1="504.88" x2="434.5" y2="504.88"/><line x1="420.4" y1="502.98" x2="420.4" y2="506.77"/><line x1="434.5" y1="502.98" x2="434.5" y2="506.77"/></g>
<rect x="425.75" y="502.88" width="3.3" height="4.0" fill="#dc6d93" fill-opacity="0.72"/>
<g stroke="#6b8a3c" stroke-opacity="0.5" stroke-width="1.0" fill="none"><line x1="432.3" y1="511.32" x2="446" y2="511.32"/><line x1="432.3" y1="509.43" x2="432.3" y2="513.23"/><line x1="446" y1="509.43" x2="446" y2="513.23"/></g>
<rect x="437.65" y="509.32" width="3.3" height="4.0" fill="#6b8a3c" fill-opacity="0.72"/>
<g stroke="#26b0a8" stroke-opacity="0.5" stroke-width="1.0" fill="none"><line x1="411.5" y1="517.77" x2="424.7" y2="517.77"/><line x1="411.5" y1="515.88" x2="411.5" y2="519.67"/><line x1="424.7" y1="515.88" x2="424.7" y2="519.67"/></g>
<rect x="416.25" y="515.77" width="3.3" height="4.0" fill="#26b0a8" fill-opacity="0.72"/>
<g stroke="#9070dc" stroke-opacity="0.5" stroke-width="1.0" fill="none"><line x1="409.1" y1="524.23" x2="423.5" y2="524.23"/><line x1="409.1" y1="522.33" x2="409.1" y2="526.12"/><line x1="423.5" y1="522.33" x2="423.5" y2="526.12"/></g>
<rect x="414.05" y="522.23" width="3.3" height="4.0" fill="#9070dc" fill-opacity="0.72"/>
<line x1="417.85" y1="14.5" x2="417.85" y2="531.5" stroke="#444" stroke-opacity="0.6" stroke-width="1.5" stroke-dasharray="5.15 1.94" stroke-dashoffset="2.45"/>
<line x1="290.5" y1="531.7" x2="545.5" y2="531.7" stroke="#a0a0a0" stroke-width="1.3"/>
<line x1="290.5" y1="531.1" x2="290.5" y2="538.7" stroke="#6e6e6e" stroke-width="1.05"/>
<line x1="354.25" y1="531.1" x2="354.25" y2="538.7" stroke="#6e6e6e" stroke-width="1.05"/>
<line x1="418" y1="531.1" x2="418" y2="538.7" stroke="#6e6e6e" stroke-width="1.05"/>
<line x1="481.75" y1="531.1" x2="481.75" y2="538.7" stroke="#6e6e6e" stroke-width="1.05"/>
<line x1="545.5" y1="531.1" x2="545.5" y2="538.7" stroke="#6e6e6e" stroke-width="1.05"/>
<line x1="285.1" y1="548.1" x2="290.0" y2="548.1" stroke="#303030" stroke-width="0.95"/><text transform="translate(293.45,551.6) scale(1.1,1)" font-size="10.6" fill="#303030" text-anchor="middle">2</text>
<line x1="350.1" y1="548.1" x2="354.7" y2="548.1" stroke="#303030" stroke-width="0.95"/><path d="M357.60 553V544.2L355.00 545.7" stroke="#303030" stroke-width="1.05" fill="none"/>
<text transform="translate(418.15,551.6) scale(1.1,1)" font-size="10.6" fill="#303030" text-anchor="middle">0</text>
<path d="M482.40 553V544.2L479.80 545.7" stroke="#303030" stroke-width="1.05" fill="none"/>
<text transform="translate(545.55,551.6) scale(1.1,1)" font-size="10.6" fill="#303030" text-anchor="middle">2</text>
<text x="610.5" y="222.6" font-size="10.7" fill="#303030">Subtypes</text>
<line x1="608.0" y1="237.5" x2="620.6" y2="237.5" stroke="#dc6d93" stroke-opacity="0.8" stroke-width="1.0"/>
<rect x="610.1" y="233.1" width="8.7" height="8.3" fill="#dc6d93"/>
<text x="625.8" y="240.4" font-size="10" fill="#303030">HA-PCOS</text>
<line x1="608.0" y1="255.4" x2="620.6" y2="255.4" stroke="#6b8a3c" stroke-opacity="0.8" stroke-width="1.0"/>
<rect x="610.1" y="251.0" width="8.7" height="8.1" fill="#6b8a3c"/>
<text x="625.8" y="258.3" font-size="10" fill="#303030">OB-PCOS</text>
<line x1="608.0" y1="273.0" x2="620.6" y2="273.0" stroke="#26b0a8" stroke-opacity="0.8" stroke-width="1.0"/>
<rect x="610.1" y="268.9" width="8.7" height="8.0" fill="#26b0a8"/>
<text x="625.8" y="276" font-size="10" fill="#303030">SHBG-PCOS</text>
<line x1="608.0" y1="290.4" x2="620.6" y2="290.4" stroke="#9070dc" stroke-opacity="0.8" stroke-width="1.0"/>
<rect x="610.1" y="286.7" width="8.7" height="8.0" fill="#9070dc"/>
<text x="625.8" y="294" font-size="10" fill="#303030">LH-PCOS</text>
</svg></body></html>
